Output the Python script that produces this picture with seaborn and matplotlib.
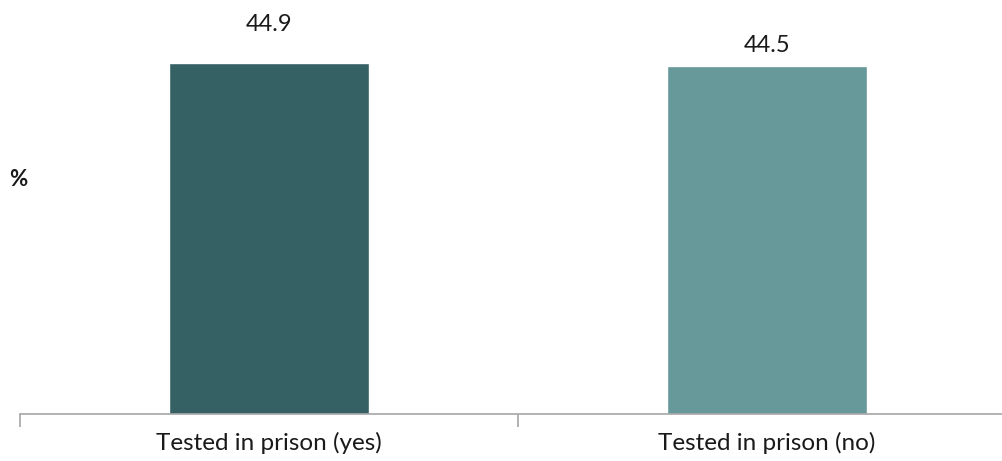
import matplotlib
matplotlib.use('Agg')
from matplotlib import pyplot as plt
import seaborn as sns
import pandas as pd

# chart data
categories = ['Tested in prison (yes)', 'Tested in prison (no)']
values = [44.9, 44.5]
bar_colors = ['#356064', '#67999a']
label_offsets = [28, 10]  # px above the bar top, as in the original

df = pd.DataFrame({'group': categories, 'pct': values})

sns.set_style('white')
plt.rcParams['font.family'] = ['Lato', 'DejaVu Sans']

fig = plt.figure(figsize=(10.03, 4.61), dpi=100)
ax = fig.add_axes([20 / 1003, 47 / 461, 996 / 1003, 391 / 461])

sns.barplot(data=df, x='group', y='pct', hue='group', palette=bar_colors,
            width=0.4, legend=False, saturation=1, ax=ax)

ax.set_ylim(0, 50)
ax.set_xlim(-0.5, 1.5)
for s in ['top', 'right', 'left']:
    ax.spines[s].set_visible(False)
ax.spines['bottom'].set_color('#a6a6a6')
ax.spines['bottom'].set_linewidth(1.2)
ax.set_yticks([])
ax.set_xticks([-0.5, 0.5, 1.5], minor=False)
ax.set_xticks([0, 1], minor=True)
ax.set_xticklabels(['', '', ''])
ax.set_xticklabels(categories, minor=True, fontsize=17.5, color='#1a1a1a')
ax.tick_params(axis='x', which='major', bottom=True, length=9,
               color='#a6a6a6', width=1.2, direction='out')
ax.tick_params(axis='x', which='minor', bottom=True, length=0, pad=13)
ax.set_xlabel('')
ax.set_ylabel('')

for i, v in enumerate(values):
    ax.annotate(f'{v:.1f}', (i, v), xytext=(0, label_offsets[i]),
                textcoords='offset pixels', ha='center', va='bottom',
                fontsize=17, color='#1a1a1a')

fig.text(18 / 1003, 1 - 180 / 461, '%', ha='center', va='center',
         fontsize=16, fontweight='bold', color='#1a1a1a')

fig.savefig('out.png', dpi=100)
